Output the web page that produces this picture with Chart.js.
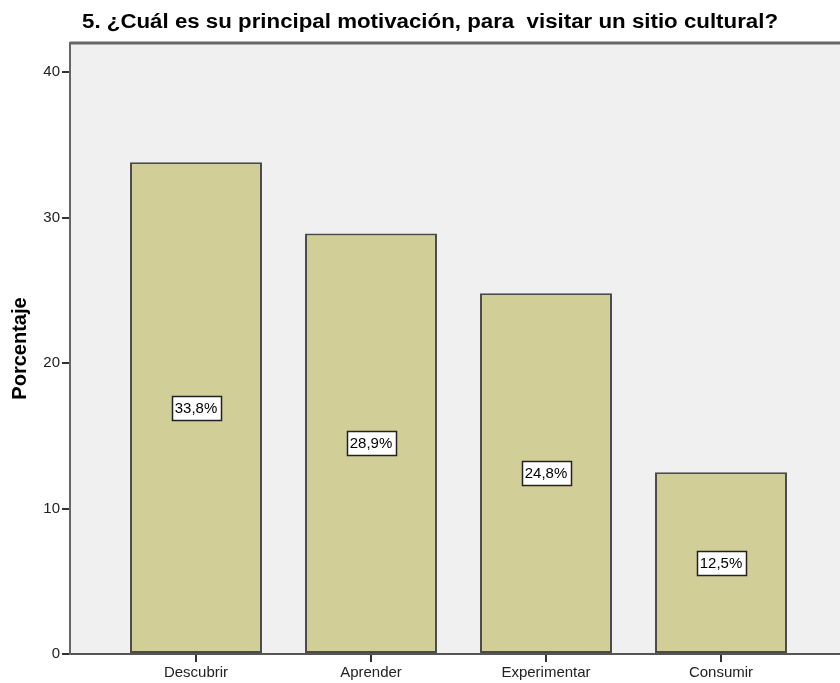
<!DOCTYPE html>
<html>
<head>
<meta charset="utf-8">
<script src="https://cdn.jsdelivr.net/npm/chart.js@4"></script>
<style>
  html, body { margin: 0; padding: 0; background: #fff; overflow: hidden; }
  #wrap { width: 840px; height: 683px; }
</style>
</head>
<body>
<div id="wrap"><canvas id="chart" width="840" height="683"></canvas></div>
<script>
// Reference chart data
const categories = ['Descubrir', 'Aprender', 'Experimentar', 'Consumir'];
const percentages = [33.8, 28.9, 24.8, 12.5];
const yTicks = [0, 10, 20, 30, 40];
const chartTitle = '5. ¿Cuál es su principal motivación, para  visitar un sitio cultural?';
const yTitle = 'Porcentaje';

const FONT = '"Liberation Sans", Arial, sans-serif';
const points = percentages.map((v, i) => ({ x: i + 1, y: v }));

// plot background + top frame line + title
const framePlugin = {
    id: 'frame',
    beforeDraw(chart) {
        const { ctx, chartArea: a } = chart;
        ctx.save();
        ctx.fillStyle = '#f0f0f0';
        ctx.fillRect(a.left, a.top, a.right - a.left, a.bottom - a.top);
        ctx.strokeStyle = '#666';
        ctx.lineWidth = 3;
        ctx.beginPath();
        ctx.moveTo(a.left, a.top);
        ctx.lineTo(a.right, a.top);
        ctx.stroke();
        // title, stretched to the reference's width
        ctx.fillStyle = '#000';
        ctx.font = 'bold 20px ' + FONT;
        ctx.textAlign = 'left';
        ctx.textBaseline = 'alphabetic';
        const w = ctx.measureText(chartTitle).width;
        const sx = 696 / w;
        ctx.translate(82, 28);
        ctx.scale(sx, 1);
        ctx.fillText(chartTitle, 0, 0);
        ctx.restore();
    }
};

// boxed value labels in the middle of each bar
const valueLabels = {
    id: 'valueLabels',
    afterDatasetsDraw(chart) {
        const { ctx } = chart;
        const meta = chart.getDatasetMeta(0);
        ctx.save();
        ctx.font = '15px ' + FONT;
        ctx.textAlign = 'center';
        ctx.textBaseline = 'middle';
        meta.data.forEach((bar, i) => {
            const txt = percentages[i].toFixed(1).replace('.', ',') + '%';
            const cy = (bar.y + bar.base) / 2;
            const w = Math.round(ctx.measureText(txt).width + 6);
            const h = 24;
            const x0 = Math.round(bar.x - w / 2);
            const y0 = Math.round(cy - h / 2);
            ctx.fillStyle = '#fff';
            ctx.fillRect(x0, y0, w, h);
            ctx.strokeStyle = '#222';
            ctx.lineWidth = 1.5;
            ctx.strokeRect(x0 + 0.5, y0 + 0.5, w, h);
            ctx.fillStyle = '#000';
            ctx.fillText(txt, bar.x, cy + 1);
        });
        ctx.restore();
    }
};

new Chart(document.getElementById('chart'), {
    type: 'bar',
    data: {
        datasets: [{
            data: points,
            backgroundColor: '#d2ce98',
            borderColor: '#4a4a4a',
            borderWidth: 2,
            borderSkipped: false,
            barPercentage: 0.754,
            categoryPercentage: 1,
        }]
    },
    options: {
        responsive: false,
        animation: false,
        layout: { padding: { top: 43, right: 0, left: 0, bottom: 0 } },
        plugins: {
            legend: { display: false },
            tooltip: { enabled: false },
        },
        scales: {
            x: {
                type: 'linear',
                min: 0.28,
                max: 4.68,
                offset: false,
                afterBuildTicks: (scale) => {
                    scale.ticks = categories.map((_, i) => ({ value: i + 1 }));
                },
                afterFit: (scale) => { scale.height = 29; },
                grid: { offset: false, drawOnChartArea: false, drawTicks: true, tickLength: 8, color: '#333', lineWidth: 2 },
                border: { display: true, color: '#555', width: 2 },
                ticks: {
                    callback: (v) => categories[Math.round(v) - 1] ?? '',
                    color: '#222',
                    font: { family: FONT, size: 15 },
                    padding: 2,
                    maxRotation: 0,
                    autoSkip: false,
                },
            },
            y: {
                min: 0,
                max: 42,
                afterBuildTicks: (scale) => {
                    scale.ticks = yTicks.map(v => ({ value: v }));
                },
                afterFit: (scale) => { scale.width = 70; },
                grid: { drawOnChartArea: false, drawTicks: true, tickLength: 8, color: '#333', lineWidth: 2 },
                border: { display: true, color: '#666', width: 2 },
                ticks: {
                    color: '#222',
                    font: { family: FONT, size: 15 },
                    padding: 2,
                },
                title: {
                    display: true,
                    text: yTitle,
                    color: '#000',
                    font: { family: FONT, size: 20, weight: 'bold' },
                    padding: { top: 8, bottom: 0 },
                },
            },
        },
    },
    plugins: [framePlugin, valueLabels],
});
</script>
</body>
</html>
